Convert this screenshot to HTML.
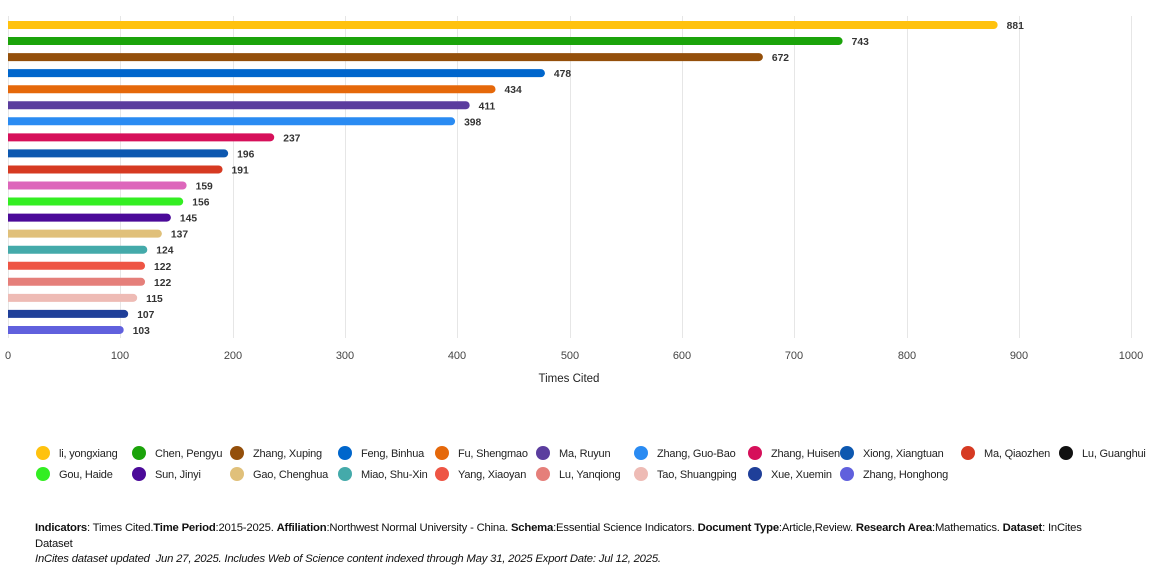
<!DOCTYPE html>
<html><head><meta charset="utf-8"><style>
body{margin:0;width:1172px;height:585px;background:#fff;font-family:"Liberation Sans",sans-serif;overflow:hidden;position:relative}
svg{position:absolute;left:0;top:0}
.foot{position:absolute;left:35px;top:521px;width:1078px;font-size:11.3px;line-height:15.5px;color:#111;letter-spacing:-0.2px}
</style></head><body>
<svg width="1172" height="585" xmlns="http://www.w3.org/2000/svg" font-family="Liberation Sans, sans-serif">
<g stroke="#e6e6e6" stroke-width="1">
<line x1="8.5" y1="16" x2="8.5" y2="338"/><line x1="120.5" y1="16" x2="120.5" y2="338"/><line x1="233.5" y1="16" x2="233.5" y2="338"/><line x1="345.5" y1="16" x2="345.5" y2="338"/><line x1="457.5" y1="16" x2="457.5" y2="338"/><line x1="570.5" y1="16" x2="570.5" y2="338"/><line x1="682.5" y1="16" x2="682.5" y2="338"/><line x1="794.5" y1="16" x2="794.5" y2="338"/><line x1="907.5" y1="16" x2="907.5" y2="338"/><line x1="1019.5" y1="16" x2="1019.5" y2="338"/><line x1="1131.5" y1="16" x2="1131.5" y2="338"/>
</g>
<g font-size="11" fill="#444" text-anchor="middle">
<text x="8" y="359">0</text><text x="120" y="359">100</text><text x="233" y="359">200</text><text x="345" y="359">300</text><text x="457" y="359">400</text><text x="570" y="359">500</text><text x="682" y="359">600</text><text x="794" y="359">700</text><text x="907" y="359">800</text><text x="1019" y="359">900</text><text x="1131" y="359">1000</text>
<text x="569" y="382" fill="#222" font-size="11.5">Times Cited</text>
</g>
<g id="bars" font-size="10.3" font-weight="bold" fill="#333"></g>
<g id="leg" font-size="11" fill="#222" letter-spacing="-0.2"></g>
</svg>
<div class="foot"><b>Indicators</b>: Times Cited.<b>Time Period</b>:2015-2025. <b>Affiliation</b>:Northwest Normal University - China. <b>Schema</b>:Essential Science Indicators. <b>Document Type</b>:Article,Review. <b>Research Area</b>:Mathematics. <b>Dataset</b>: InCites Dataset<br><i>InCites dataset updated &nbsp;Jun 27, 2025. Includes Web of Science content indexed through May 31, 2025 Export Date: Jul 12, 2025.</i></div>
<script>
var vals=[881,743,672,478,434,411,398,237,196,191,159,156,145,137,124,122,122,115,107,103];
var cols=["#FFC20E","#1BA30A","#944F0A","#0066CC","#E5680A","#5B3D9E","#2A8BF2","#D6105A","#0D58B0","#D63A22","#DD66BB","#33EE22","#4B0A99","#E0C07A","#44AAAA","#EE5544","#E57F7A","#EEBBB5","#1F3F99","#6060DD"];
var names=["li, yongxiang","Chen, Pengyu","Zhang, Xuping","Feng, Binhua","Fu, Shengmao","Ma, Ruyun","Zhang, Guo-Bao","Zhang, Huisen","Xiong, Xiangtuan","Ma, Qiaozhen","Lu, Guanghui","Gou, Haide","Sun, Jinyi","Gao, Chenghua","Miao, Shu-Xin","Yang, Xiaoyan","Lu, Yanqiong","Tao, Shuangping","Xue, Xuemin","Zhang, Honghong"];
var b=document.getElementById("bars"),h="";
vals.forEach(function(v,i){var y=25+i*16.05,w=v*1.1233;
h+='<path d="M8 '+(y-4)+'h'+(w-4)+'a4 4 0 0 1 0 8h-'+(w-4)+'z" fill="'+cols[i]+'"/>';
h+='<text x="'+(8+w+9)+'" y="'+(y+4)+'">'+v+'</text>';});
b.innerHTML=h;
var lc=cols.slice();lc[10]="#111111";
var xs=[43,139,237,345,442,543,641,755,847,968,1066],lg="";
names.forEach(function(n,i){var r=i<11?0:1,c=i<11?i:i-11,x=xs[c],y=r?474:453;
lg+='<circle cx="'+x+'" cy="'+y+'" r="7" fill="'+lc[i]+'"/>';
lg+='<text x="'+(x+16)+'" y="'+(y+4)+'">'+n+'</text>';});
document.getElementById("leg").innerHTML=lg;
</script>
</body></html>
